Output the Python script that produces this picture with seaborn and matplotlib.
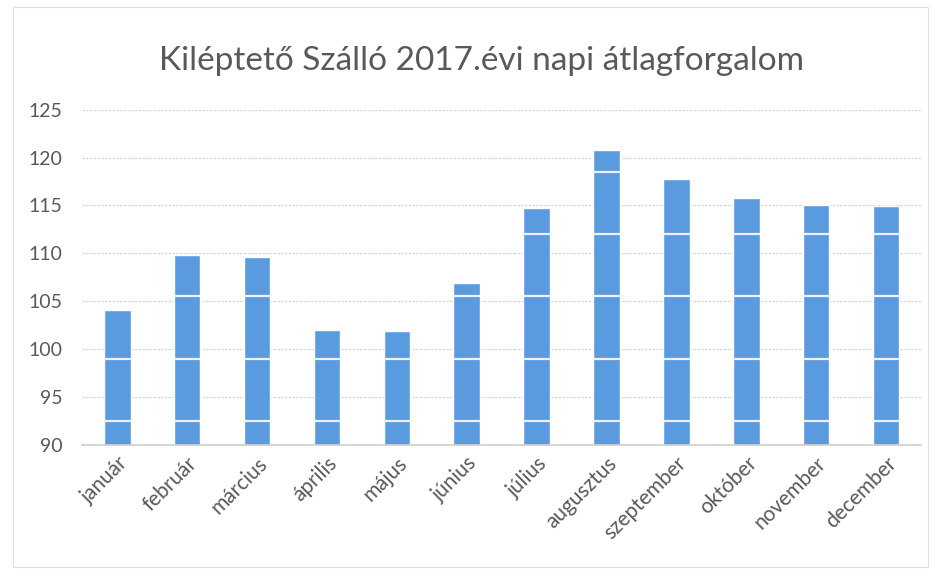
import matplotlib
matplotlib.use("Agg")
import matplotlib.pyplot as plt
import seaborn as sns
import pandas as pd

months = ["január", "február", "március", "április", "május", "június",
          "július", "augusztus", "szeptember", "október", "november", "december"]
avg_traffic = [104.1, 109.8, 109.6, 102.0, 101.9, 106.9,
               114.7, 120.8, 117.8, 115.8, 115.0, 114.9]
y_ticks = [90, 95, 100, 105, 110, 115, 120, 125]
title = "Kiléptető Szálló 2017.évi napi átlagforgalom"

# faint light stripes seen across the printed bars
stripe_levels = [92.5, 99.0, 105.5, 112.0, 118.5]

sns.set_theme(style="white")
plt.rcParams["font.family"] = ["Lato", "DejaVu Sans"]

df = pd.DataFrame({"month": months, "value": avg_traffic})

fig = plt.figure(figsize=(9.35, 5.8), dpi=100)
ax = fig.add_axes([0.088, 0.233, 0.897, 0.578])

sns.barplot(data=df, x="month", y="value", color="#5a9be0", saturation=1,
            width=0.38, ax=ax, zorder=2)

ax.set_ylim(90, 125)
ax.set_yticks(y_ticks)
ax.yaxis.grid(True, color="#d6d6d6", linewidth=0.9, linestyle=(0, (2, 1)))
ax.set_axisbelow(True)

# stripes only inside the bars
for bar in ax.patches:
    for lvl in stripe_levels:
        ln = ax.axhline(lvl, color="#f4eef6", linewidth=1.6, zorder=3)
        ln.set_clip_path(bar)

for s in ["top", "right", "left"]:
    ax.spines[s].set_visible(False)
ax.spines["bottom"].set_color("#d0d0d0")

ax.set_xlabel("")
ax.set_ylabel("")
ax.tick_params(axis="y", length=0, labelsize=14, labelcolor="#595959", pad=14)
ax.tick_params(axis="x", length=0, labelsize=15, labelcolor="#595959", pad=6)
plt.setp(ax.get_xticklabels(), rotation=45, ha="right", rotation_mode="anchor")

fig.text(0.515, 0.895, title, ha="center", va="center", fontsize=24, color="#595959")

fig.patches.append(plt.Rectangle((0.014, 0.022), 0.978, 0.966, transform=fig.transFigure,
                                 fill=False, edgecolor="#e0e0e0", linewidth=0.8))

fig.savefig("out.png", dpi=100, facecolor="white")
